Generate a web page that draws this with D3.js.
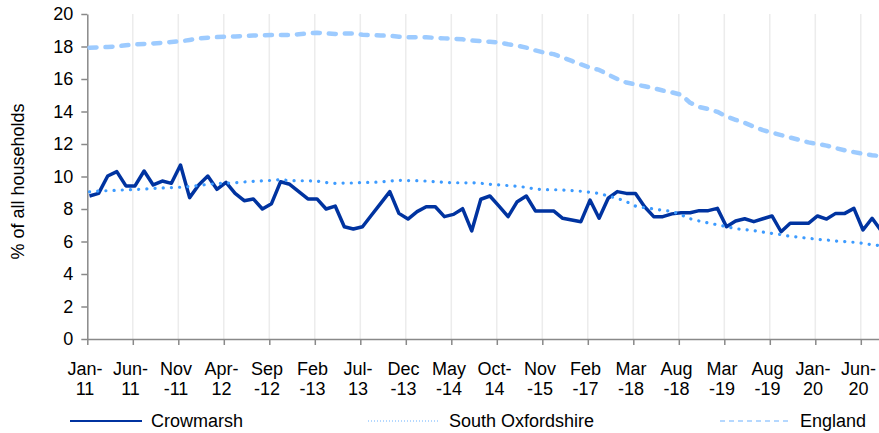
<!DOCTYPE html>
<html>
<head>
<meta charset="utf-8">
<script src="https://cdn.jsdelivr.net/npm/d3@7"></script>
<style>
  html, body { margin: 0; padding: 0; background: #fff; }
  svg { display: block; font-family: 'Liberation Sans', Arial, sans-serif; }
</style>
</head>
<body>
<div id="chart"></div>
<script>
// DATA
const categories = [
  'Jan-11', 'Feb-11', 'Mar-11', 'Apr-11', 'May-11', 'Jun-11', 'Jul-11', 'Aug-11', 'Sep-11', 'Oct-11',
  'Nov-11', 'Dec-11', 'Jan-12', 'Feb-12', 'Mar-12', 'Apr-12', 'May-12', 'Jun-12', 'Jul-12', 'Aug-12',
  'Sep-12', 'Oct-12', 'Nov-12', 'Dec-12', 'Jan-13', 'Feb-13', 'Mar-13', 'Apr-13', 'May-13', 'Jun-13',
  'Jul-13', 'Aug-13', 'Sep-13', 'Oct-13', 'Nov-13', 'Dec-13', 'Jan-14', 'Feb-14', 'Mar-14', 'Apr-14',
  'May-14', 'Jun-14', 'Jul-14', 'Aug-14', 'Sep-14', 'Oct-14', 'Jan-15', 'Apr-15', 'Jul-15', 'Oct-15',
  'Nov-15', 'Feb-16', 'May-16', 'Aug-16', 'Nov-16', 'Feb-17', 'May-17', 'Aug-17', 'Nov-17', 'Feb-18',
  'Mar-18', 'Apr-18', 'May-18', 'Jun-18', 'Jul-18', 'Aug-18', 'Sep-18', 'Oct-18', 'Nov-18', 'Jan-19',
  'Mar-19', 'Apr-19', 'May-19', 'Jun-19', 'Jul-19', 'Aug-19', 'Sep-19', 'Oct-19', 'Nov-19', 'Dec-19',
  'Jan-20', 'Feb-20', 'Mar-20', 'Apr-20', 'May-20', 'Jun-20', 'Jul-20', 'Aug-20'
];

// labels shown under every 5th category, as Excel wrapped them
const tickLabels = [
  ['Jan-', '11'], ['Jun-', '11'], ['Nov', '-11'], ['Apr-', '12'], ['Sep', '-12'], ['Feb', '-13'],
  ['Jul-', '13'], ['Dec', '-13'], ['May', '-14'], ['Oct-', '14'], ['Nov', '-15'], ['Feb', '-17'],
  ['Mar', '-18'], ['Aug', '-18'], ['Mar', '-19'], ['Aug', '-19'], ['Jan-', '20'], ['Jun-', '20']
];

const crowmarsh = [
  8.80, 8.96, 10.03, 10.30, 9.42, 9.42, 10.34, 9.48, 9.72, 9.58,
  10.71, 8.70, 9.48, 10.03, 9.21, 9.64, 8.96, 8.51, 8.62, 8.00,
  8.33, 9.68, 9.52, 9.07, 8.62, 8.62, 8.00, 8.18, 6.91, 6.77,
  6.91, 7.63, 8.35, 9.07, 7.73, 7.38, 7.84, 8.14, 8.14, 7.53,
  7.67, 8.02, 6.65, 8.60, 8.80, 8.18, 7.53, 8.45, 8.80, 7.88,
  7.88, 7.88, 7.43, 7.32, 7.22, 8.55, 7.43, 8.66, 9.07, 8.96,
  8.96, 8.14, 7.53, 7.53, 7.70, 7.77, 7.77, 7.90, 7.90, 8.04,
  6.91, 7.26, 7.40, 7.22, 7.40, 7.57, 6.60, 7.12, 7.12, 7.12,
  7.57, 7.38, 7.73, 7.73, 8.04, 6.71, 7.43, 6.65
];

const southOxfordshire = [
  9.05, 9.10, 9.13, 9.15, 9.18, 9.20, 9.23, 9.26, 9.30, 9.32,
  9.34, 9.38, 9.45, 9.52, 9.56, 9.59, 9.62, 9.66, 9.70, 9.73,
  9.76, 9.80, 9.75, 9.74, 9.74, 9.72, 9.63, 9.58, 9.60, 9.60,
  9.63, 9.64, 9.66, 9.72, 9.77, 9.75, 9.74, 9.72, 9.68, 9.64,
  9.62, 9.61, 9.62, 9.58, 9.52, 9.48, 9.44, 9.40, 9.33, 9.23,
  9.19, 9.19, 9.17, 9.13, 9.09, 9.03, 8.96, 8.80, 8.66, 8.45,
  8.18, 8.08, 8.00, 7.92, 7.85, 7.65, 7.40, 7.26, 7.14, 7.03,
  6.91, 6.79, 6.73, 6.67, 6.58, 6.50, 6.42, 6.32, 6.26, 6.20,
  6.13, 6.09, 6.03, 5.99, 5.95, 5.89, 5.80, 5.74
];

const england = [
  17.93, 17.95, 17.97, 18.00, 18.08, 18.13, 18.16, 18.19, 18.23, 18.28,
  18.32, 18.40, 18.49, 18.54, 18.58, 18.60, 18.62, 18.65, 18.67, 18.69,
  18.71, 18.71, 18.71, 18.75, 18.80, 18.85, 18.81, 18.77, 18.80, 18.80,
  18.72, 18.70, 18.68, 18.66, 18.60, 18.57, 18.57, 18.57, 18.53, 18.50,
  18.48, 18.44, 18.37, 18.33, 18.29, 18.25, 18.14, 18.05, 17.93, 17.76,
  17.62, 17.53, 17.33, 17.11, 16.90, 16.70, 16.56, 16.27, 16.00, 15.78,
  15.67, 15.55, 15.43, 15.29, 15.18, 15.03, 14.54, 14.28, 14.15, 13.98,
  13.69, 13.49, 13.30, 13.07, 12.85, 12.70, 12.55, 12.40, 12.25, 12.10,
  12.00, 11.90, 11.75, 11.61, 11.50, 11.40, 11.31, 11.25
];

const yTicks = [0, 2, 4, 6, 8, 10, 12, 14, 16, 18, 20];
const yTitle = '% of all households';

const series = [
  { name: 'Crowmarsh', values: crowmarsh, color: '#0033a0', width: 3.5, dash: null, cap: 'butt' },
  { name: 'South Oxfordshire', values: southOxfordshire, color: '#3d9bff', width: 3.2, dash: '0.1 8.1', cap: 'round' },
  { name: 'England', values: england, color: '#9dcbff', width: 4.5, dash: '7 9', cap: 'round' }
];

// LAYOUT
const width = 879;
const height = 433;
const axisX = 87.3;
const firstPoint = 89.5;
const step = 9.1;
const tickShift = axisX - firstPoint;
const plotTop = 14;
const plotBottom = 339;

const svg = d3
  .select('#chart')
  .append('svg')
  .attr('width', width)
  .attr('height', height);

svg.append('rect').attr('width', width).attr('height', height).attr('fill', '#fff');

const x = d3
  .scaleLinear()
  .domain([0, categories.length - 1])
  .range([firstPoint, firstPoint + step * (categories.length - 1)]);

// tick marks sit a little left of the data points in the original
const xTick = d3
  .scaleLinear()
  .domain(x.domain())
  .range(x.range().map(v => v + tickShift));

const y = d3.scaleLinear().domain([0, 20]).range([plotBottom, plotTop]);

const tickIndex = d3.range(0, categories.length, 5);

// vertical gridlines
svg
  .append('g')
  .selectAll('line')
  .data(tickIndex.slice(1))
  .enter()
  .append('line')
  .attr('x1', d => xTick(d))
  .attr('x2', d => xTick(d))
  .attr('y1', y(0))
  .attr('y2', y(20))
  .attr('stroke', '#ececec')
  .attr('stroke-width', 1.5);

// AXES
const yAxis = d3
  .axisLeft(y)
  .tickValues(yTicks)
  .tickSize(6)
  .tickSizeOuter(0)
  .tickPadding(8);

const yG = svg
  .append('g')
  .attr('transform', `translate(${axisX},0)`)
  .call(yAxis);

const xAxis = d3
  .axisBottom(xTick)
  .tickValues(tickIndex)
  .tickSize(6)
  .tickSizeOuter(0)
  .tickFormat('');

const xG = svg
  .append('g')
  .attr('transform', `translate(0,${plotBottom})`)
  .call(xAxis);

[yG, xG].forEach(g => {
  g.select('.domain').attr('stroke', '#898989').attr('stroke-width', 1.5);
  g.selectAll('.tick line').attr('stroke', '#898989').attr('stroke-width', 1.5);
});

yG.selectAll('.tick text')
  .attr('font-size', 18)
  .attr('font-family', "'Liberation Sans', Arial, sans-serif")
  .attr('fill', '#000');

const labels = svg
  .append('g')
  .selectAll('text')
  .data(tickIndex)
  .enter()
  .append('text')
  .attr('text-anchor', 'middle')
  .attr('font-size', 18)
  .attr('fill', '#000');

labels
  .selectAll('tspan')
  .data((d, i) => tickLabels[i].map(t => ({ t, x: xTick(d) - 2.3 })))
  .enter()
  .append('tspan')
  .attr('x', d => d.x)
  .attr('y', (d, i) => plotBottom + 36 + i * 20)
  .text(d => d.t);

svg
  .append('text')
  .attr('transform', `translate(24,${(plotTop + plotBottom) / 2 + 5}) rotate(-90)`)
  .attr('text-anchor', 'middle')
  .attr('font-size', 18)
  .attr('fill', '#000')
  .text(yTitle);

// LINES
const line = d3
  .line()
  .x((d, i) => x(i))
  .y(d => y(d));

svg
  .append('g')
  .selectAll('path')
  .data(series)
  .enter()
  .append('path')
  .attr('d', d => line(d.values))
  .attr('fill', 'none')
  .attr('stroke', d => d.color)
  .attr('stroke-width', d => d.width)
  .attr('stroke-dasharray', d => d.dash)
  .attr('stroke-linecap', d => d.cap)
  .attr('stroke-linejoin', 'round');

// LEGEND
const legendX = [70, 368, 720];
const legendY = 421;

const legend = svg
  .append('g')
  .selectAll('g')
  .data(series)
  .enter()
  .append('g')
  .attr('transform', (d, i) => `translate(${legendX[i]},${legendY})`);

legend
  .append('line')
  .attr('x1', 0)
  .attr('x2', 72)
  .attr('y1', 0)
  .attr('y2', 0)
  .attr('stroke', d => d.color)
  .attr('stroke-width', (d, i) => (i === 0 ? 2.2 : 1.5))
  .attr('stroke-dasharray', (d, i) => (i === 0 ? null : i === 1 ? '1 2' : '5 4'))
  .attr('opacity', (d, i) => (i === 1 ? 0.5 : 1));

legend
  .append('text')
  .attr('x', (d, i) => (i === 2 ? 80 : 81))
  .attr('y', 6)
  .attr('font-size', 18)
  .attr('fill', '#000')
  .text(d => d.name);
</script>
</body>
</html>
